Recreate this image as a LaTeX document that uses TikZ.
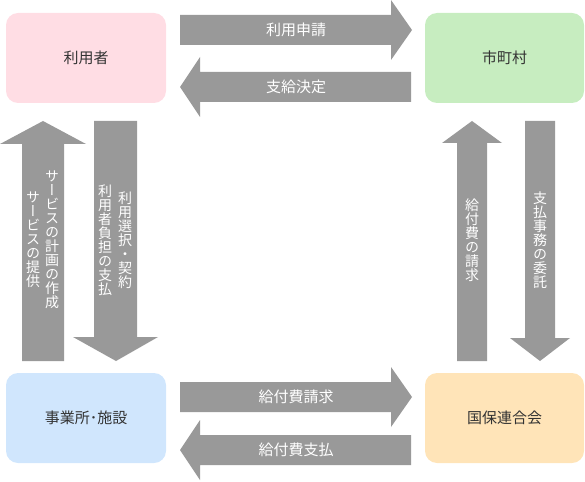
\documentclass[tikz,border=0pt]{standalone}
\usepackage{fontspec}
\setmainfont{Noto Sans CJK JP}
\newfontfamily\jpf{Noto Sans CJK JP}
\newfontfamily\vjpf{Noto Sans CJK JP}[RawFeature=+vert]
\definecolor{boxpink}{RGB}{255,221,228}
\definecolor{boxgreen}{RGB}{199,237,192}
\definecolor{boxblue}{RGB}{208,230,253}
\definecolor{boxorange}{RGB}{255,228,184}
\definecolor{arrgray}{RGB}{153,153,153}
\definecolor{txtgray}{RGB}{51,51,51}
\begin{document}
\begin{tikzpicture}[x=1pt,y=-1pt,
  box/.style={rounded corners=12pt, minimum width=160pt, minimum height=90pt, inner sep=0pt,
    font=\jpf\fontsize{15}{18}\selectfont, text=txtgray},
  blockarrow/.style={fill=arrgray},
  hlab/.style={font=\jpf\fontsize{15}{18}\selectfont, text=white, inner sep=0pt},
  vlab/.style={font=\vjpf\fontsize{14}{14}\selectfont, text=white, align=center, inner sep=0pt}]
\useasboundingbox (0,0) rectangle (585,481);
% boxes
\node[box, fill=boxpink] (user) at (86,58) {利用者};
\node[box, fill=boxgreen, minimum width=159pt] (city) at (504.5,58) {市町村};
\node[box, fill=boxblue] (office) at (86,418) {事業所･施設};
\node[box, fill=boxorange, minimum width=159pt] (kokuho) at (504.5,418) {国保連合会};
% horizontal block arrows
\fill[blockarrow] (180,15) -- (391,15) -- (391,0) -- (412,30) -- (391,60) -- (391,45) -- (180,45) -- cycle;
\fill[blockarrow] (411,72) -- (200,72) -- (200,57) -- (180,87) -- (200,117) -- (200,102) -- (411,102) -- cycle;
\fill[blockarrow] (180,382) -- (391,382) -- (391,367) -- (412,397) -- (391,427) -- (391,412) -- (180,412) -- cycle;
\fill[blockarrow] (411,435) -- (200,435) -- (200,420) -- (180,450) -- (200,480) -- (200,465) -- (411,465) -- cycle;
% vertical block arrows
\fill[blockarrow] (22,361) -- (22,144) -- (0,144) -- (43,121) -- (86,144) -- (64,144) -- (64,361) -- cycle;
\fill[blockarrow] (94,121) -- (137,121) -- (137,337) -- (158,337) -- (116,361) -- (73,337) -- (94,337) -- cycle;
\fill[blockarrow] (457,361) -- (457,143) -- (442,143) -- (472,121) -- (502,143) -- (487,143) -- (487,361) -- cycle;
\fill[blockarrow] (525,121) -- (555,121) -- (555,338) -- (570,338) -- (540,361) -- (510,338) -- (525,338) -- cycle;
% horizontal labels
\node[hlab] (apply) at (296,30) {利用申請};
\node[hlab] (decide) at (296,87) {支給決定};
\node[hlab] (claim) at (296,397) {給付費請求};
\node[hlab] (pay) at (296,450) {給付費支払};
% vertical labels
\node[vlab] (plan) at (52,240) {サ\\ー\\ビ\\ス\\の\\計\\画\\の\\作\\成};
\node[vlab] (serve) at (33,240) {サ\\ー\\ビ\\ス\\の\\提\\供};
\node[vlab] (select) at (125,240) {利\\用\\選\\択\\・\\契\\約};
\node[vlab] (burden) at (105,240) {利\\用\\者\\負\\担\\の\\支\\払};
\node[vlab] (bill) at (472,240) {給\\付\\費\\の\\請\\求};
\node[vlab] (entrust) at (540,240) {支\\払\\事\\務\\の\\委\\託};
\end{tikzpicture}
\end{document}
